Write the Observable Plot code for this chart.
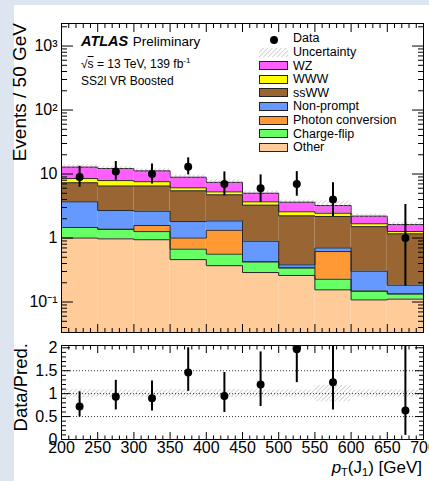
<!DOCTYPE html>
<html><head><meta charset="utf-8">
<script src="https://cdn.jsdelivr.net/npm/d3@7"></script>
<script src="https://cdn.jsdelivr.net/npm/@observablehq/plot@0.6"></script>
<style>
html,body{margin:0;padding:0;}
body{width:429px;height:481px;background:#dde6f0;overflow:hidden;position:relative;font-family:"Liberation Sans",Arial,sans-serif;color:#000;}
#panel{position:absolute;left:14px;top:5px;width:415px;height:476px;background:#fff;}
.abs{position:absolute;white-space:nowrap;line-height:1;}
.plotbox{position:absolute;left:0;}
.rot{position:absolute;white-space:nowrap;line-height:1;transform-origin:0 0;transform:rotate(-90deg) translate(-100%,-50%);}
</style></head><body>
<svg width="0" height="0" style="position:absolute"><defs>
<pattern id="hatch" patternUnits="userSpaceOnUse" width="4.5" height="4.5">
<path d="M-1,1 l2,-2 M0,4.5 l4.5,-4.5 M3.5,5.5 l2,-2" stroke="#a8a8a8" stroke-width="0.7"/>
</pattern></defs></svg>
<div id="panel"></div>
<div id="main" class="plotbox" style="top:0"></div>
<div id="ratio" class="plotbox" style="top:340px"></div>
<div id="overlay"></div>
<script>
// ---------------- data ----------------
const edges = [200, 250, 300, 350, 400, 450, 500, 550, 600, 650];
const binWidth = 50;
const other      = [1.00, 0.97, 0.94, 0.46, 0.37, 0.289, 0.26, 0.155, 0.108, 0.111];
const chargeFlip = [0.46, 0.40, 0.32, 0.21, 0.19, 0.136, 0.082, 0.072, 0.040, 0.023];
const photonConv = [0, 0, 0.31, 0.33, 0.76, 0, 0, 0.388, 0, 0];
const nonPrompt  = [2.22, 1.32, 1.05, 0.81, 0.53, 0.465, 0.039, 0.085, 0.155, 0.049];
const ssWW       = [3.62, 3.81, 3.88, 3.65, 2.88, 2.37, 1.84, 1.47, 1.20, 0.98];
const www        = [1.20, 1.40, 1.10, 0.64, 0.54, 0.42, 0.35, 0.27, 0.17, 0.10];
const wz         = [4.30, 4.30, 3.60, 2.80, 2.13, 1.32, 1.05, 0.78, 0.52, 0.36];
const dataCounts = [9, 11, 10, 13, 7, 6, 7, 4, 0, 1];
const dataLow    = [6.2, 8.0, 7.0, 9.7, 4.56, 3.63, 4.5, 2.17, null, 0.177];
const dataHigh   = [13.2, 15.7, 14.4, 17.9, 10.8, 9.7, 10.9, 7.3, null, 3.34];
const ratio      = [0.72, 0.93, 0.90, 1.46, 0.95, 1.20, 1.97, 1.25, null, 0.63];
const ratioLow   = [0.49, 0.645, 0.62, 1.05, 0.59, 0.72, 1.24, 0.645, null, 0.09];
const ratioHigh  = [1.04, 1.29, 1.275, 2.0, 1.46, 1.91, 3.0, 2.27, null, 2.06];
const uncRel     = [0.09, 0.08, 0.08, 0.09, 0.09, 0.08, 0.08, 0.18, 0.08, 0.08];
const xTickMajor = [200, 250, 300, 350, 400, 450, 500, 550, 600, 650, 700];
const yTickMajor = [0.1, 1, 10, 100, 1000];
const ratioTicks = [0, 0.5, 1, 1.5, 2];
const ratioGrid  = [0.5, 1, 1.5];
const seriesNames  = ["Other", "Charge-flip", "Photon conversion", "Non-prompt", "ssWW", "WWW", "WZ"];
const seriesValues = [other, chargeFlip, photonConv, nonPrompt, ssWW, www, wz];
const seriesColors = ["#ffcc99", "#66ff66", "#ff9933", "#6699ff", "#996633", "#ffff00", "#ff5eff"];

// ---------------- derived tables ----------------
const yDomain = [0.0334, 2250];
const xDomain = [200, 700];
const xMinor = d3.range(200, 701, 10).filter(v => v % 50 !== 0);
const yMinor = [];
for (let d = -2; d <= 3; d++) for (let k = 2; k <= 9; k++) {
  const v = k * Math.pow(10, d);
  if (v > yDomain[0] && v < yDomain[1]) yMinor.push(v);
}
const rMinor = d3.range(0, 21).map(i => i / 10).filter(v => Math.round(v * 10) % 5 !== 0);

let cum = edges.map(() => 0);
const compRects = [];
const levels = [];
seriesValues.forEach((vals, s) => {
  const lower = cum.slice();
  cum = cum.map((v, i) => v + vals[i]);
  compRects.push(edges.map((e, i) => ({x1: e, x2: e + binWidth, y1: lower[i] > 0 ? lower[i] : yDomain[0], y2: cum[i]})));
  const pts = edges.map((e, i) => ({x: e, y: cum[i]}));
  pts.push({x: edges[edges.length - 1] + binWidth, y: cum[cum.length - 1]});
  levels.push(pts);
});
const total = cum;
const band = edges.map((e, i) => ({x1: e, x2: e + binWidth, y1: total[i] * (1 - uncRel[i]), y2: total[i] * (1 + uncRel[i])}));
const rband = edges.map((e, i) => ({x1: e, x2: e + binWidth, y1: 1 - uncRel[i], y2: 1 + uncRel[i]}));
const obs = edges.map((e, i) => ({xc: e + binWidth / 2, n: dataCounts[i], lo: dataLow[i], hi: dataHigh[i]})).filter(d => d.n > 0);
const robs = edges.map((e, i) => ({xc: e + binWidth / 2, r: ratio[i], lo: ratioLow[i], hi: ratioHigh[i]})).filter(d => d.r != null);

const supFmt = v => {
  const e = Math.round(Math.log10(v));
  if (e === 0) return "1";
  if (e === 1) return "10";
  const sup = {"-": "\u207B", "1": "\u00B9", "2": "\u00B2", "3": "\u00B3"};
  return "10" + String(e).split("").map(c => sup[c]).join("");
};
const style = "background:transparent;overflow:visible;font-family:'Liberation Sans',Arial,sans-serif;color:#000;";
const blank = () => "";

// ---------------- main panel ----------------
const main = Plot.plot({
  width: 429, height: 345,
  marginLeft: 61, marginRight: 6, marginTop: 23, marginBottom: 13,
  style,
  x: {domain: xDomain},
  y: {type: "log", domain: yDomain},
  marks: [
    ...compRects.map((rs, s) => Plot.rect(rs, {x1: "x1", x2: "x2", y1: "y1", y2: "y2", fill: seriesColors[s]})),
    ...levels.map(pts => Plot.line(pts, {x: "x", y: "y", curve: "step-after", stroke: "#2a2a2a", strokeWidth: 1})),
    Plot.rect(band, {x1: "x1", x2: "x2", y1: "y1", y2: "y2", fill: "url(#hatch)"}),
    Plot.ruleX(obs, {x: "xc", y1: "lo", y2: "hi", stroke: "black", strokeWidth: 2}),
    Plot.dot(obs, {x: "xc", y: "n", r: 4, fill: "black", stroke: "none"}),
    Plot.frame({stroke: "black", strokeWidth: 1}),
    Plot.axisX({anchor: "bottom", ticks: xTickMajor, tickSize: -8, tickFormat: blank, label: null}),
    Plot.axisX({anchor: "bottom", ticks: xMinor, tickSize: -4, tickFormat: blank, label: null}),
    Plot.axisX({anchor: "top", ticks: xTickMajor, tickSize: -8, tickFormat: blank, label: null}),
    Plot.axisX({anchor: "top", ticks: xMinor, tickSize: -4, tickFormat: blank, label: null}),
    Plot.axisY({anchor: "left", ticks: yTickMajor, tickSize: -12, tickFormat: blank, label: null}),
    Plot.axisY({anchor: "left", ticks: yMinor, tickSize: -6, tickFormat: blank, label: null}),
    Plot.axisY({anchor: "right", ticks: yTickMajor, tickSize: -12, tickFormat: blank, label: null}),
    Plot.axisY({anchor: "right", ticks: yMinor, tickSize: -6, tickFormat: blank, label: null}),
    Plot.axisY({anchor: "left", ticks: yTickMajor, tickSize: 0, tickPadding: 4, tickFormat: supFmt, fontSize: 16, label: null})
  ]
});
document.getElementById("main").appendChild(main);

// ---------------- ratio panel ----------------
const rp = Plot.plot({
  width: 429, height: 141,
  marginLeft: 61, marginRight: 6, marginTop: 5, marginBottom: 42,
  style,
  x: {domain: xDomain},
  y: {domain: [0, 2.05]},
  marks: [
    Plot.rect(rband, {x1: "x1", x2: "x2", y1: "y1", y2: "y2", fill: "url(#hatch)"}),
    Plot.ruleY(ratioGrid, {stroke: "black", strokeDasharray: "1,2", strokeWidth: 0.8}),
    Plot.ruleX(robs, {x: "xc", y1: "lo", y2: "hi", stroke: "black", strokeWidth: 2, clip: true}),
    Plot.dot(robs, {x: "xc", y: "r", r: 4, fill: "black", stroke: "none", clip: true}),
    Plot.frame({stroke: "black", strokeWidth: 1}),
    Plot.axisX({anchor: "bottom", ticks: xTickMajor, tickSize: -7, tickFormat: blank, label: null}),
    Plot.axisX({anchor: "bottom", ticks: xMinor, tickSize: -3.5, tickFormat: blank, label: null}),
    Plot.axisX({anchor: "top", ticks: xTickMajor, tickSize: -7, tickFormat: blank, label: null}),
    Plot.axisX({anchor: "top", ticks: xMinor, tickSize: -3.5, tickFormat: blank, label: null}),
    Plot.axisY({anchor: "left", ticks: ratioTicks, tickSize: -9, tickFormat: blank, label: null}),
    Plot.axisY({anchor: "left", ticks: rMinor, tickSize: -5, tickFormat: blank, label: null}),
    Plot.axisY({anchor: "right", ticks: ratioTicks, tickSize: -9, tickFormat: blank, label: null}),
    Plot.axisY({anchor: "right", ticks: rMinor, tickSize: -5, tickFormat: blank, label: null}),
    Plot.axisY({anchor: "left", ticks: ratioTicks, tickSize: 0, tickPadding: 4, tickFormat: d => String(d), fontSize: 16, label: null}),
    Plot.axisX({anchor: "bottom", ticks: xTickMajor, tickSize: 0, tickPadding: 2, tickFormat: d => String(d), fontSize: 16, label: null})
  ]
});
document.getElementById("ratio").appendChild(rp);

// ---------------- texts & legend ----------------
const ov = document.getElementById("overlay");
function add(html, css, cls = "abs") {
  const d = document.createElement("div");
  d.className = cls;
  d.style.cssText = css;
  d.innerHTML = html;
  ov.appendChild(d);
  return d;
}
add("Events / 50 GeV", "left:18.5px;top:23px;font-size:19px;", "rot");
add("Data/Pred.", "left:20.5px;top:343px;font-size:18.5px;", "rot");
add('<i>p</i><sub style="font-size:11px;vertical-align:-3px">T</sub>(J<sub style="font-size:11px;vertical-align:-3px">1</sub>) [GeV]', "right:7px;top:459px;font-size:17px;");
add('<b><i style="font-size:14.5px">ATLAS</i></b> <span style="font-size:13.5px">Preliminary</span>', "left:81px;top:33px;");
add('\u221A<span style="text-decoration:overline">s</span> = 13 TeV, 139 fb<sup style="font-size:8px;vertical-align:5px">-1</sup>', "left:81px;top:57px;font-size:12px;");
add("SS2l VR Boosted", "left:81px;top:75px;font-size:12px;");

// legend
const legX = 258.7, legTextX = 293, rowStep = 13.6, row0 = 38.5, fs = 12.5;
add('<svg width="10" height="10"><circle cx="5" cy="5" r="4" fill="black"/></svg>', `left:${274 - 5}px;top:${row0 + 1.5 - 5}px;line-height:0;`);
add("Data", `left:${legTextX}px;top:${row0 - 6.1}px;font-size:${fs}px;`);
add('<svg width="29" height="9"><rect x="0" y="0" width="29" height="9" fill="url(#hatch)"/></svg>', `left:${legX}px;top:${row0 + rowStep - 4.5}px;line-height:0;`);
add("Uncertainty", `left:${legTextX}px;top:${row0 + rowStep - 6.1}px;font-size:${fs}px;`);
const legOrder = seriesNames.map((n, i) => i).reverse();
legOrder.forEach((s, k) => {
  const cy = row0 + rowStep * (k + 2);
  add(`<svg width="29" height="9"><rect x="0.5" y="0.5" width="28" height="8" fill="${seriesColors[s]}" stroke="#222" stroke-width="1"/></svg>`, `left:${legX}px;top:${cy - 4.5}px;line-height:0;`);
  add(seriesNames[s], `left:${legTextX}px;top:${cy - 6.1}px;font-size:${fs}px;`);
});
</script>
</body></html>
